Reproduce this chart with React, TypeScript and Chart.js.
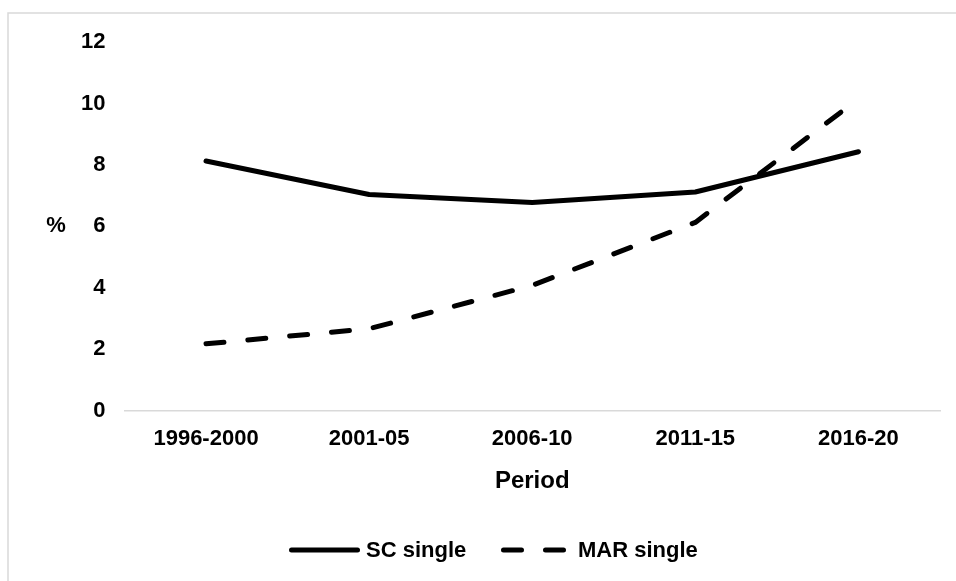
import React, { useEffect, useRef } from "react";
import { Chart, registerables } from "chart.js";

Chart.register(...registerables);

const categories = ["1996-2000", "2001-05", "2006-10", "2011-15", "2016-20"];
const scSingle = [8.13, 7.04, 6.78, 7.12, 8.43];
const marSingle = [2.18, 2.67, 4.08, 6.13, 10.15];
const yMin = 0;
const yMax = 12;
const yStep = 2;

const FONT = "'Liberation Sans', Arial, sans-serif";

const extras = {
  id: "extras",
  beforeDraw(chart: any) {
    const ctx = chart.ctx;
    ctx.save();
    ctx.strokeStyle = "#d9d9d9";
    ctx.lineWidth = 1.5;
    ctx.strokeRect(8, 13, 1200, 1200);
    ctx.restore();
  },
  afterDraw(chart: any) {
    const ctx = chart.ctx;
    const y = chart.scales.y.getPixelForValue(6);
    ctx.save();
    ctx.font = `bold 22px ${FONT}`;
    ctx.fillStyle = "#000";
    ctx.textAlign = "center";
    ctx.textBaseline = "middle";
    ctx.fillText("%", 56, y);

    // legend
    const ly = 550;
    const items = chart.data.datasets.map((ds: any, i: number) => ({
      label: ds.label,
      dash: ds.borderDash || [],
      width: ds.borderWidth,
      x0: i === 0 ? 291.5 : 503.5,
      x1: i === 0 ? 357.5 : 565.5,
      tx: i === 0 ? 366 : 578,
    }));
    ctx.textAlign = "left";
    for (const it of items) {
      ctx.beginPath();
      ctx.setLineDash(it.dash);
      ctx.lineCap = "round";
      ctx.lineWidth = it.width;
      ctx.strokeStyle = "#000";
      ctx.moveTo(it.x0, ly);
      ctx.lineTo(it.x1, ly);
      ctx.stroke();
      ctx.setLineDash([]);
      ctx.fillText(it.label, it.tx, ly + 1);
    }
    ctx.restore();
  },
};

export default function App() {
  const ref = useRef<HTMLCanvasElement>(null);
  useEffect(() => {
    if (!ref.current) return;
    const chart = new Chart(ref.current, {
      type: "line",
      data: {
        labels: categories,
        datasets: [
          {
            label: "SC single",
            data: scSingle,
            borderColor: "#000",
            backgroundColor: "#000",
            borderWidth: 5,
            pointRadius: 0,
            tension: 0,
            borderCapStyle: "round",
            borderJoinStyle: "round",
          },
          {
            label: "MAR single",
            data: marSingle,
            borderColor: "#000",
            backgroundColor: "#000",
            borderWidth: 5,
            borderDash: [18, 24],
            pointRadius: 0,
            tension: 0,
            borderCapStyle: "round",
            borderJoinStyle: "round",
          },
        ],
      },
      options: {
        animation: false,
        responsive: false,
        layout: { padding: { left: 62, right: 16, top: 42, bottom: 75 } },
        plugins: {
          tooltip: { enabled: false },
          legend: { display: false },
        },
        scales: {
          x: {
            offset: true,
            grid: { display: false, drawTicks: false },
            border: { color: "#d9d9d9", width: 1.5 },
            ticks: {
              color: "#000",
              padding: 15,
              maxRotation: 0,
              font: { family: FONT, size: 22, weight: "bold" },
            },
            title: {
              display: true,
              text: "Period",
              color: "#000",
              padding: { top: 0, bottom: 10 },
              font: { family: FONT, size: 24, weight: "bold" },
            },
          },
          y: {
            min: yMin,
            max: yMax,
            grid: { display: false, drawTicks: false },
            border: { display: false },
            ticks: {
              stepSize: yStep,
              color: "#000",
              padding: 19,
              font: { family: FONT, size: 22, weight: "bold" },
            },
          },
        },
      },
      plugins: [extras],
    });
    return () => chart.destroy();
  }, []);
  return (
    <div style={{ position: "fixed", left: 0, top: 0, width: 956, height: 581, background: "#fff" }}>
      <canvas ref={ref} width={956} height={581} style={{ width: 956, height: 581 }} />
    </div>
  );
}
